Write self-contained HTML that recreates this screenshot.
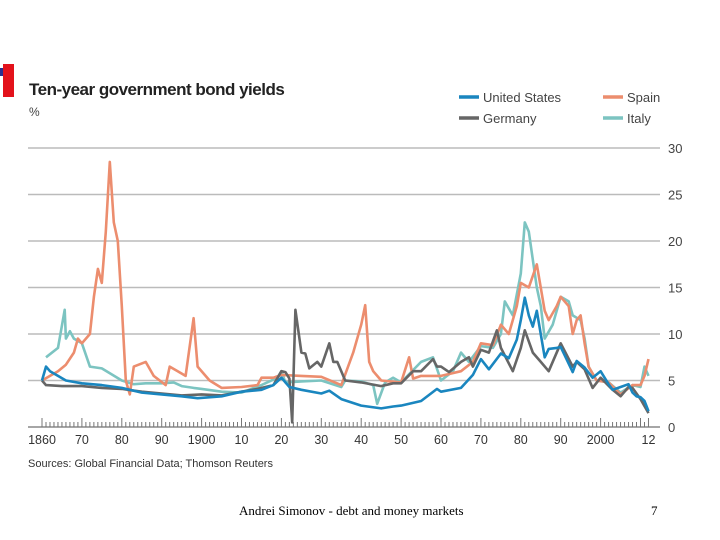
<!DOCTYPE html>
<html><head><meta charset="utf-8"><style>
body{margin:0;background:#fff;width:720px;height:540px;overflow:hidden;position:relative;font-family:"Liberation Sans",sans-serif}
.t{position:absolute;white-space:nowrap}
</style></head><body>
<div style="position:absolute;left:3px;top:64px;width:11px;height:33px;background:#e3121b"></div>
<div style="position:absolute;left:0;top:68px;width:3px;height:8px;background:#2b2f8f"></div>
<div class="t" style="left:29px;top:80px;font-size:17px;font-weight:bold;color:#222;letter-spacing:-0.5px">Ten-year government bond yields</div>
<div class="t" style="left:29px;top:105px;font-size:12px;color:#444">%</div>
<svg id="c" width="720" height="540" style="position:absolute;left:0;top:0"></svg>
<div class="t" style="left:28px;top:458px;font-size:11px;color:#333">Sources: Global Financial Data; Thomson Reuters</div>
<div class="t" style="left:239px;top:503px;font-size:13px;font-family:'Liberation Serif',serif;color:#000">Andrei Simonov - debt and money markets</div>
<div class="t" style="left:651px;top:503px;font-size:13px;font-family:'Liberation Serif',serif;color:#000">7</div>
<script>
const yTicks=[0,5,10,15,20,25,30];
const xTickYears=[1860,1870,1880,1890,1900,1910,1920,1930,1940,1950,1960,1970,1980,1990,2000,2012];
const xTickLabels=["1860","70","80","90","1900","10","20","30","40","50","60","70","80","90","2000","12"];
const spainYears=[1860,1864,1866,1868,1869,1870,1872,1873,1874,1875,1876,1877,1878,1879,1880,1881,1882,1883,1886,1888,1891,1892,1894,1896,1898,1899,1902,1905,1910,1914,1915,1918,1920,1925,1930,1935,1938,1940,1941,1942,1943,1945,1950,1952,1953,1955,1960,1965,1968,1970,1973,1975,1977,1979,1980,1982,1984,1986,1987,1989,1990,1992,1993,1994,1995,1996,1997,1999,2002,2005,2008,2010,2011,2012];
const spainVals=[5,6,6.7,8,9.5,9,10,14,17,15.5,21,28.5,22,20,13,5,3.5,6.5,7,5.5,4.5,6.5,6,5.5,11.7,6.5,5,4.2,4.3,4.5,5.3,5.3,5.6,5.5,5.4,4.5,8,11,13.1,7,6,5,4.8,7.5,5.2,5.5,5.5,6,7,9,8.8,11,10,13,15.5,15,17.5,12.5,11.5,13,14,13,10,11.5,12,9,6.5,5,4.8,3.5,4.5,4.5,5.5,7.3];
const italyYears=[1861,1864,1865.7,1866,1867,1868,1870,1872,1875,1880,1883,1886,1890,1893,1895,1898,1900,1905,1910,1915,1919,1920,1921,1925,1930,1935,1936,1940,1943,1944,1946,1948,1950,1955,1958,1960,1963,1965,1967,1970,1973,1975,1976,1978,1980,1981,1982,1984,1985,1986,1988,1990,1992,1993,1995,1996,1997,1999,2002,2005,2008,2010,2011,2012];
const italyVals=[7.5,8.5,12.6,9.5,10.3,9.5,9,6.5,6.3,5,4.6,4.7,4.7,4.8,4.4,4.2,4.1,3.8,3.7,4.5,5.3,6,4.8,4.9,5,4.3,5,4.9,4.5,2.5,4.8,5.3,4.8,7,7.5,5,6,8,7,8.7,8.5,10,13.5,12,16.5,22,21,15,13,9.5,11,14,13.5,12,11.5,9.5,6.5,5,4.8,3.7,4.5,4.3,6.5,5.5];
const germanyYears=[1860,1861,1865,1870,1875,1880,1885,1890,1895,1900,1905,1910,1914,1918,1920,1921,1922,1922.7,1923.5,1925,1926,1927,1929,1930,1932,1933,1934,1936,1940,1945,1948,1950,1953,1955,1958,1959,1960,1962,1965,1967,1968,1970,1972,1974,1975,1978,1980,1981,1983,1985,1987,1990,1993,1994,1996,1998,2000,2003,2005,2007,2008,2010,2012];
const germanyVals=[5,4.5,4.4,4.4,4.2,4.1,3.8,3.6,3.4,3.5,3.4,3.8,4.1,4.5,6,5.9,5.2,0.5,12.6,8,7.9,6.3,7,6.5,9,7,7,5,4.8,4.4,4.7,4.7,6,6,7.3,6.5,6.5,5.9,7,7.5,6.5,8.3,8,10.4,8.5,6,8.5,10.4,8,7,6,9,6.5,7,6.2,4.2,5.3,4,3.3,4.3,4.2,3,1.5];
const usYears=[1860,1861,1862,1864,1866,1870,1875,1880,1885,1890,1895,1899,1905,1910,1915,1918,1920,1922,1925,1930,1932,1935,1940,1945,1948,1950,1955,1959,1960,1965,1968,1970,1972,1975,1977,1979,1980,1981,1982,1983,1984,1986,1987,1989,1990,1993,1994,1996,1998,2000,2002,2003,2005,2007,2008,2009,2010,2011,2012];
const usVals=[5,6.5,6,5.5,5,4.7,4.5,4.2,3.7,3.5,3.3,3.1,3.3,3.8,4,4.5,5.3,4.3,4,3.6,3.9,3,2.3,2,2.2,2.3,2.8,4.1,3.8,4.2,5.6,7.3,6.2,7.9,7.4,9.4,11.5,13.9,12,10.8,12.5,7.5,8.4,8.5,8.6,5.9,7.1,6.4,5.3,6,4.6,4,4.3,4.6,3.7,3.3,3.2,2.8,1.7];

const svg=document.getElementById('c');const NS='http://www.w3.org/2000/svg';
const X=yr=>42+(yr-1860)*3.99;
const Y=v=>427-v*9.3;
function mk(tag,attrs){const e=document.createElementNS(NS,tag);for(const k in attrs)e.setAttribute(k,attrs[k]);svg.appendChild(e);return e;}
yTicks.forEach(v=>{
  const l=mk('line',{x1:28,x2:660,y1:Y(v),y2:Y(v),stroke:v===0?'#888':'#bbb','stroke-width':v===0?1.5:1.6});
  
  
  const t=mk('text',{x:668,y:Y(v)+5,'font-size':13,fill:'#444','font-family':'Liberation Sans, sans-serif'});
  t.textContent=v;
  
  
});
for(let yr=1860;yr<=2012;yr++){
  const big=yr%10===0||yr===2012;
  const m=mk('line',{x1:X(yr),x2:X(yr),y1:427,y2:big?418:422,stroke:'#777','stroke-width':1});
  
  
}
xTickYears.forEach((yr,i)=>{
  const t=mk('text',{x:X(yr),y:444,'text-anchor':'middle','font-size':12.5,fill:'#333','font-family':'Liberation Sans, sans-serif'});
  t.textContent=xTickLabels[i];
  
  
});
function series(years,vals,color,name){
  const d=years.map((yr,i)=>(i?'L':'M')+X(yr).toFixed(1)+','+Y(vals[i]).toFixed(1)).join('');
  const p=mk('path',{d:d,fill:'none',stroke:color,'stroke-width':2.6,'stroke-linejoin':'round'});
  
  
}
series(italyYears,italyVals,'#7cc4c1','italy-line');
series(spainYears,spainVals,'#ec8d6e','spain-line');
series(germanyYears,germanyVals,'#666666','germany-line');
series(usYears,usVals,'#1a86bf','us-line');
const leg=[['United States','#1a86bf',459,97],['Spain','#ec8d6e',603,97],['Germany','#666666',459,118],['Italy','#7cc4c1',603,118]];
leg.forEach(l=>{
  const s=mk('line',{x1:l[2],x2:l[2]+20,y1:l[3],y2:l[3],stroke:l[1],'stroke-width':3.5});
  
  
  const t=mk('text',{x:l[2]+24,y:l[3]+5,'font-size':13,fill:'#444','font-family':'Liberation Sans, sans-serif'});
  t.textContent=l[0];
  
  
});
</script>
</body></html>
